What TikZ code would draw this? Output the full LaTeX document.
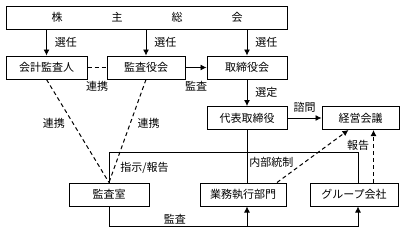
\documentclass[tikz,border=0pt]{standalone}
\usepackage{fontspec}
\setmainfont{Noto Sans CJK JP}
\usetikzlibrary{positioning, arrows.meta, calc}
\tikzset{box/.style={draw, line width=1pt, minimum height=23pt, inner sep=0pt, font=\fontsize{11}{13}\selectfont},
lbl/.style={font=\fontsize{11}{13}\selectfont, inner sep=1pt},
line/.style={line width=0.8pt},
flow/.style={-{Latex[length=6pt,width=6pt]}, line width=0.8pt},
link/.style={dash pattern=on 4pt off 3pt, line width=1pt},
linkflow/.style={link, -{Latex[length=6pt,width=6pt]}}}

\begin{document}
\begin{tikzpicture}[x=1pt, y=-1pt]
  \useasboundingbox (0,0) rectangle (411,233);
  \node[box, minimum width=281pt] (soukai) at (147,17.5) {株\hspace{49pt}主\hspace{49pt}総\hspace{49pt}会};
  \node[box, minimum width=81pt] (kaikei) at (46.5,67.5) {会計監査人};
  \node[box, minimum width=78pt] (kansayaku) at (146,67.5) {監査役会};
  \node[box, minimum width=80pt] (torishimari) at (247,67.5) {取締役会};
  \node[box, minimum width=80pt] (daihyo) at (247,118) {代表取締役};
  \node[box, minimum width=77pt] (keiei) at (360.5,118) {経営会議};
  \node[box, minimum width=80pt] (kansashitsu) at (109,194.5) {監査室};
  \node[box, minimum width=86pt] (gyomu) at (243,194.5) {業務執行部門};
  \node[box, minimum width=88pt] (group) at (354,194.5) {グループ会社};
  \coordinate (gn) at ([xshift=4pt]group.north);
  \coordinate (gs) at ([xshift=4pt]group.south);

  % top row
  \draw[flow] (kaikei.north |- soukai.south) -- node[lbl, right=7pt]{選任} (kaikei.north);
  \draw[flow] (kansayaku.north |- soukai.south) -- node[lbl, right=7pt]{選任} (kansayaku.north);
  \draw[flow] (torishimari.north |- soukai.south) -- node[lbl, right=7pt]{選任} (torishimari.north);
  \draw[link] (kaikei) -- node[lbl, below=12pt]{連携} (kansayaku);
  \draw[flow] (kansayaku) -- node[lbl, below=12pt]{監査} (torishimari);
  \draw[flow] (torishimari) -- node[lbl, right=7pt]{選定} (daihyo);
  \draw[flow] (daihyo) -- node[lbl, above=4pt]{諮問} (keiei);

  % audit links
  \draw[link] (kaikei.south) -- node[lbl, left=7pt, pos=0.43]{連携} (kansashitsu.north);
  \draw[link] (kansayaku.south) -- node[lbl, right=6pt, pos=0.43]{連携} (kansashitsu.north);

  % internal control
  \draw[line] (kansashitsu.north) -- node[lbl, right=10pt]{指示/報告} ++(0,-30) -| (gn);
  \draw[line] (daihyo.south) -- node[lbl, right=1pt, pos=0.62]{内部統制} (daihyo.south |- gyomu.north);
  \draw[linkflow] ([xshift=34pt]gyomu.north) -- ([xshift=-12pt]keiei.south);
  \draw[linkflow] ([xshift=13pt]keiei.south |- group.north) -- node[lbl, left=3pt, pos=0.7]{報告} ([xshift=13pt]keiei.south);

  % audit
  \draw[flow] (kansashitsu.south) -- ++(0,20) coordinate (bot) -- node[lbl, above=1pt, pos=0.265]{監査} (bot -| gs) -- (gs);
  \draw[flow] (bot -| daihyo.south) -- (daihyo.south |- gyomu.south);
\end{tikzpicture}
\end{document}
